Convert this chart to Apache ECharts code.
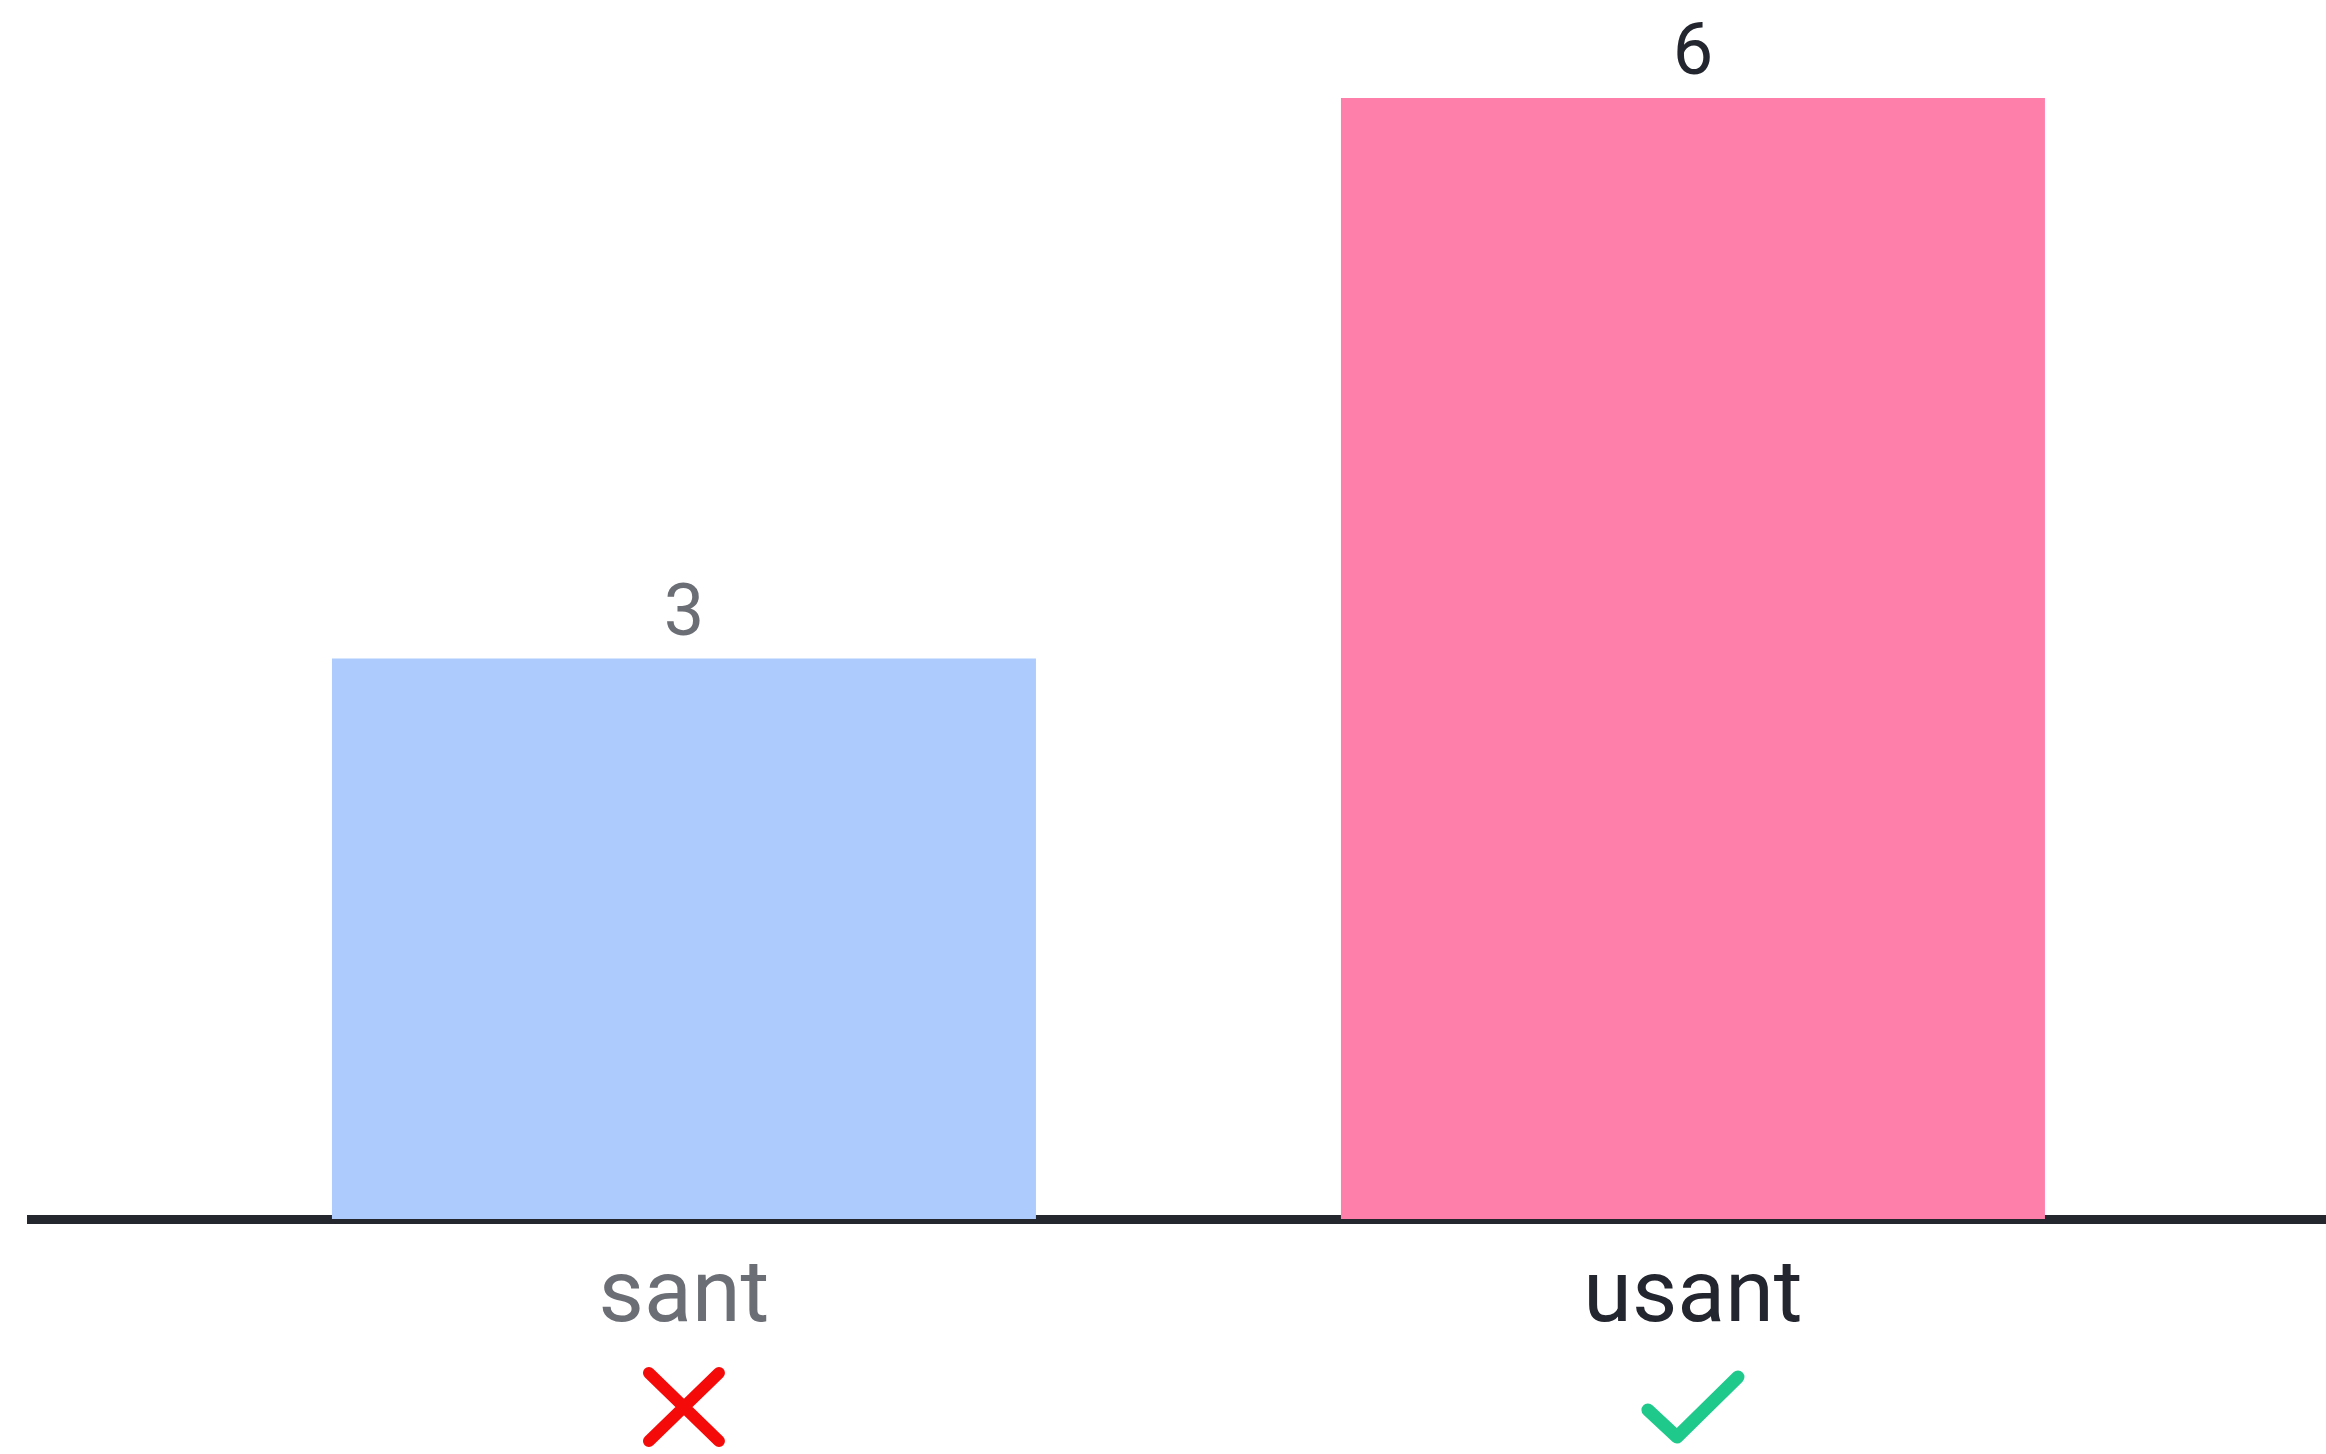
<!DOCTYPE html>
<html>
<head>
<meta charset="utf-8">
<script src="https://cdn.jsdelivr.net/npm/echarts@6/dist/echarts.min.js"></script>
<style>
    html, body { margin: 0; padding: 0; background: #fff; }
    #chart { width: 2326px; height: 1454px; }
</style>
</head>
<body>
<div id="chart"></div>
<script>
// data
const categories = ["sant", "usant"];
const counts = [3, 6];
const verdicts = ["bad", "good"]; // cross under the first, tick under the second

// styles per category
const barColors = ["#aecbfd", "#fe80aa"];
const textColors = ["#6b6e75", "#23262e"];

const FONT = "Roboto, 'Noto Sans', sans-serif";

// little line icons for the verdict row
const svgUrl = (s) => "data:image/svg+xml;charset=utf-8," + encodeURIComponent(s);
const crossIcon = svgUrl(
    '<svg xmlns="http://www.w3.org/2000/svg" width="84" height="82" viewBox="0 0 84 82">' +
    '<path d="M7 7 L77 75 M77 7 L7 75" stroke="#f50a0a" stroke-width="12" stroke-linecap="round" fill="none"/></svg>'
);
const tickIcon = svgUrl(
    '<svg xmlns="http://www.w3.org/2000/svg" width="106" height="76" viewBox="0 0 106 76">' +
    '<path d="M8 41 L37 68 L98 8" stroke="#1fc98b" stroke-width="13" stroke-linecap="round" stroke-linejoin="round" fill="none"/></svg>'
);

const chart = echarts.init(document.getElementById("chart"));

const option = {
    animation: false,
    grid: {
        left: 27,
        right: 0,
        top: 98,
        bottom: 235
    },
    xAxis: {
        type: "value",
        // categories sit at 0 and 1, the baseline runs past both sides
        min: -0.6511,
        max: 1.6274,
        splitLine: { show: false },
        axisTick: { show: false },
        axisLine: {
            show: true,
            onZero: false,
            lineStyle: { color: "#24272e", width: 9, cap: "butt" }
        },
        axisLabel: {
            customValues: categories.map((c, i) => i),
            margin: 30,
            formatter: (v) => {
                const i = Math.round(v);
                const icon = verdicts[i] === "good" ? "{good|}" : "{bad|}";
                return "{n" + i + "|" + categories[i] + "}\n" + icon;
            },
            rich: {
                n0: { fontFamily: FONT, fontSize: 88, color: textColors[0], lineHeight: 100 },
                n1: { fontFamily: FONT, fontSize: 88, color: textColors[1], lineHeight: 100 },
                bad: {
                    width: 84, height: 82, lineHeight: 116,
                    backgroundColor: { image: crossIcon }
                },
                good: {
                    width: 106, height: 76, lineHeight: 116,
                    backgroundColor: { image: tickIcon }
                }
            }
        }
    },
    yAxis: {
        type: "value",
        min: 0,
        max: 6,
        show: false
    },
    series: [
        {
            type: "bar",
            barWidth: 704,
            data: counts.map((v, i) => ({
                value: [i, v],
                itemStyle: { color: barColors[i] },
                label: { color: textColors[i] }
            })),
            label: {
                show: true,
                position: "top",
                distance: 6,
                fontFamily: FONT,
                fontSize: 72,
                formatter: (p) => p.value[1]
            },
            z: 1
        }
    ]
};

chart.setOption(option);
</script>
</body>
</html>
